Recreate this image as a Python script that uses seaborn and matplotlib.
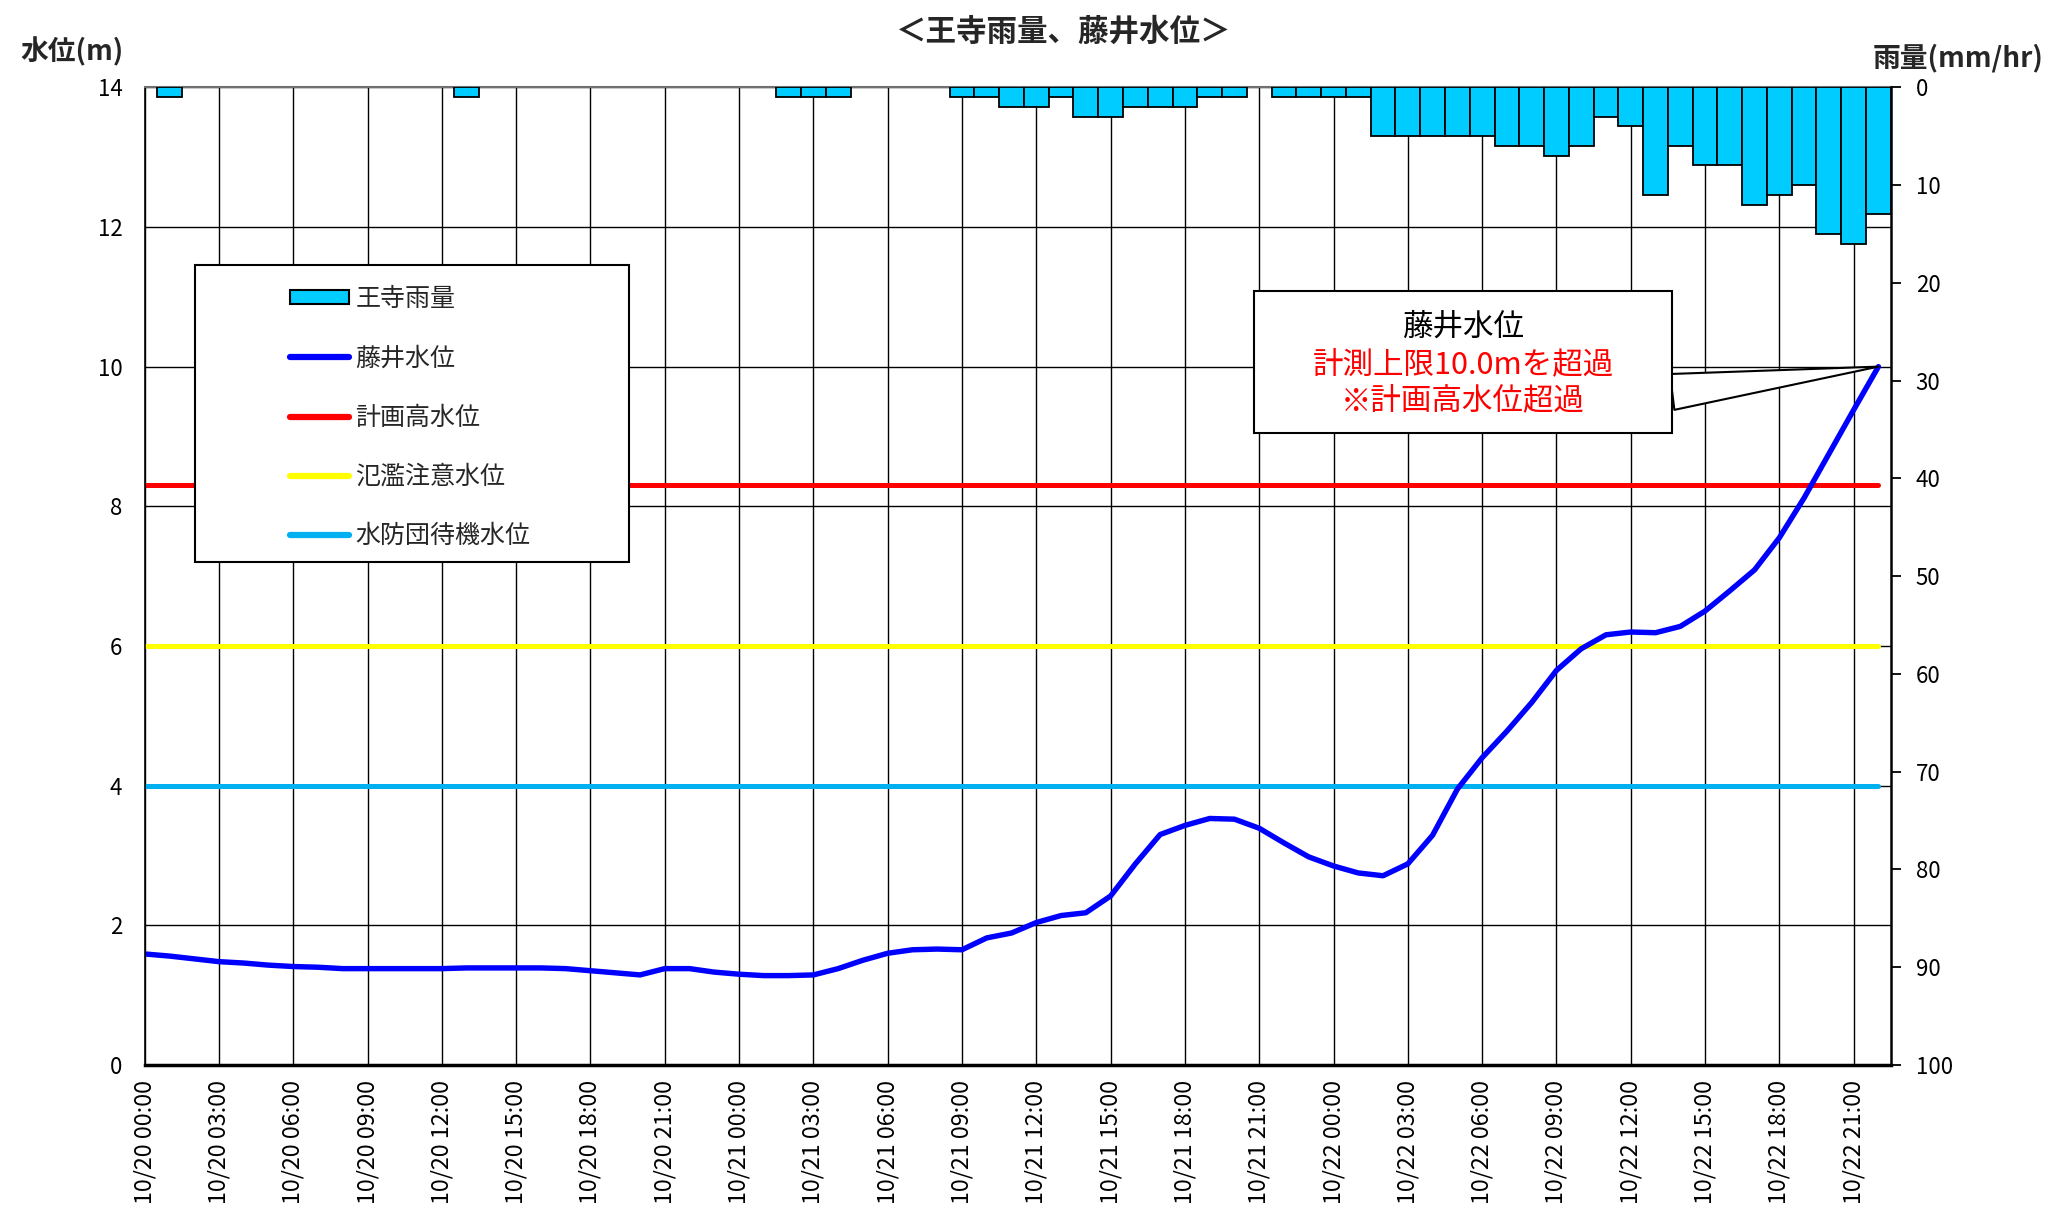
import numpy as np
import pandas as pd
import matplotlib
matplotlib.use("Agg")
import matplotlib.pyplot as plt
from matplotlib.patches import Rectangle, Patch
from matplotlib.lines import Line2D
import seaborn as sns

# hours since 10/20 00:00
hours = list(range(71))
tick_hours = list(range(0, 70, 3))
tick_labels = ['10/20 00:00', '10/20 03:00', '10/20 06:00', '10/20 09:00',
               '10/20 12:00', '10/20 15:00', '10/20 18:00', '10/20 21:00',
               '10/21 00:00', '10/21 03:00', '10/21 06:00', '10/21 09:00',
               '10/21 12:00', '10/21 15:00', '10/21 18:00', '10/21 21:00',
               '10/22 00:00', '10/22 03:00', '10/22 06:00', '10/22 09:00',
               '10/22 12:00', '10/22 15:00', '10/22 18:00', '10/22 21:00']

# 王寺雨量 (mm/hr)
rain = [0, 1, 0, 0, 0, 0, 0, 0, 0, 0, 0, 0,
        0, 1, 0, 0, 0, 0, 0, 0, 0, 0, 0, 0,
        0, 0, 1, 1, 1, 0, 0, 0, 0, 1, 1, 2,
        2, 1, 3, 3, 2, 2, 2, 1, 1, 0, 1, 1,
        1, 1, 5, 5, 5, 5, 5, 6, 6, 7, 6, 3,
        4, 11, 6, 8, 8, 12, 11, 10, 15, 16, 13]

# 藤井水位 (m)
level = [1.59, 1.56, 1.52, 1.48, 1.46, 1.43, 1.41, 1.40, 1.38, 1.38, 1.38, 1.38,
         1.38, 1.39, 1.39, 1.39, 1.39, 1.38, 1.35, 1.32, 1.29, 1.38, 1.38, 1.33,
         1.30, 1.28, 1.28, 1.29, 1.38, 1.50, 1.60, 1.65, 1.66, 1.65, 1.82, 1.89,
         2.04, 2.14, 2.18, 2.42, 2.88, 3.30, 3.43, 3.53, 3.52, 3.39, 3.18, 2.98,
         2.85, 2.75, 2.71, 2.88, 3.29, 3.95, 4.40, 4.78, 5.19, 5.65, 5.96, 6.16,
         6.20, 6.19, 6.28, 6.50, 6.79, 7.09, 7.55, 8.12, 8.75, 9.38, 10.0]

plan_high = 8.3      # 計画高水位
flood_warn = 6.0     # 氾濫注意水位
standby = 4.0        # 水防団待機水位

sns.set_theme(style="white")
plt.rcParams['font.family'] = ['Noto Sans CJK JP', 'DejaVu Sans']

fig = plt.figure(figsize=(20.66, 12.24), dpi=100)
ax = fig.add_axes([0.0700, 0.1299, 0.8452, 0.7988])
ax2 = ax.twinx()

df = pd.DataFrame({"hour": hours, "rain": rain, "level": level})
wet = df[df["rain"] > 0]

sns.barplot(data=wet, x="hour", y="rain", native_scale=True, width=1.0,
            color="#00CCFF", saturation=1, edgecolor="black", linewidth=1.3,
            errorbar=None, ax=ax2)

ref_lines = [(standby, "#00B0F0"), (flood_warn, "#FFFF00"), (plan_high, "#FF0000")]
for val, col in ref_lines:
    sns.lineplot(x=hours, y=np.full(len(hours), val), color=col, linewidth=3.6, ax=ax)
sns.lineplot(data=df, x="hour", y="level", color="#0000FF", linewidth=3.9, ax=ax)

ax.set_xlim(0, 70.5)
ax.set_ylim(0, 14)
ax.set_yticks(range(0, 15, 2))
ax.set_xticks(tick_hours)
ax.set_xticklabels(tick_labels, rotation=90)
ax.grid(True, color="black", linewidth=1.0)
ax.set_xlabel("")
ax.set_ylabel("")
ax.tick_params(axis="y", left=False, length=0, pad=16, labelsize=16, colors="black")
ax.tick_params(axis="x", bottom=False, length=0, pad=11, labelsize=16.8, colors="black")

ax2.set_ylim(100, 0)
ax2.set_yticks(range(0, 101, 10))
ax2.grid(False)
ax2.set_ylabel("")
ax2.set_xlabel("")
ax2.tick_params(axis="y", right=True, direction="out", length=7, width=1.3,
                pad=11, labelsize=16, colors="black")
ax2.set_xlim(0, 70.5)

for s in ["left", "top", "bottom"]:
    ax2.spines[s].set_visible(False)
ax2.spines["right"].set_color("black")
ax2.spines["right"].set_linewidth(1.8)
ax.spines["left"].set_color("black")
ax.spines["left"].set_linewidth(1.2)
ax.spines["top"].set_color("#707070")
ax.spines["top"].set_linewidth(1.5)
ax.spines["bottom"].set_color("black")
ax.spines["bottom"].set_linewidth(2.5)
ax.spines["right"].set_visible(False)

# legend
box = Rectangle((0.0289, 0.5145), 0.2486, 0.3038, transform=ax2.transAxes,
                facecolor="white", edgecolor="black", linewidth=1.5, zorder=4)
ax2.add_patch(box)
handles = [Patch(facecolor="#00CCFF", edgecolor="black", linewidth=1.5),
           Line2D([], [], color="#0000FF", linewidth=4.5, solid_capstyle="round"),
           Line2D([], [], color="#FF0000", linewidth=4.5, solid_capstyle="round"),
           Line2D([], [], color="#FFFF00", linewidth=4.5, solid_capstyle="round"),
           Line2D([], [], color="#00B0F0", linewidth=4.5, solid_capstyle="round")]
labels = ["王寺雨量", "藤井水位", "計画高水位", "氾濫注意水位", "水防団待機水位"]
leg = ax2.legend(handles, labels, loc="center left", bbox_to_anchor=(0.0834, 0.662),
                 frameon=False, fontsize=18, handlelength=2.35, handleheight=0.5,
                 handletextpad=0.25, labelspacing=1.33, borderpad=0, borderaxespad=0)
leg.set_zorder(5)

# callout box with wedge pointing at the last level reading
call_box = Rectangle((0.6354, 0.6464), 0.2394, 0.1453, transform=ax2.transAxes,
                     facecolor="white", edgecolor="black", linewidth=1.5, zorder=6)
ax2.add_patch(call_box)
ax2.annotate("", xy=(hours[-1], level[-1]), xycoords=ax.transData,
             xytext=(0.8748, 0.6884), textcoords="axes fraction",
             arrowprops=dict(arrowstyle="wedge,tail_width=1.3", mutation_scale=20,
                             fc="white", ec="black", lw=1.5, shrinkA=0, shrinkB=0),
             zorder=5.5)
center = (0.7551, 0.716)
for txt, dy, col in [("藤井水位", 27, "black"),
                     ("計測上限10.0mを超過", 0, "#FF0000"),
                     ("※計画高水位超過", -26, "#FF0000")]:
    ax2.annotate(txt, xy=center, xycoords="axes fraction", xytext=(0, dy),
                 textcoords="offset points", ha="center", va="center",
                 fontsize=22, color=col, zorder=7)

fig.text(0.515, 0.974, "＜王寺雨量、藤井水位＞", ha="center", va="center",
         fontsize=22, fontweight="bold")
fig.text(0.035, 0.958, "水位(m)", ha="center", va="center", fontsize=20, fontweight="bold")
fig.text(0.948, 0.953, "雨量(mm/hr)", ha="center", va="center", fontsize=20, fontweight="bold")

fig.savefig("out.png", dpi=100)
